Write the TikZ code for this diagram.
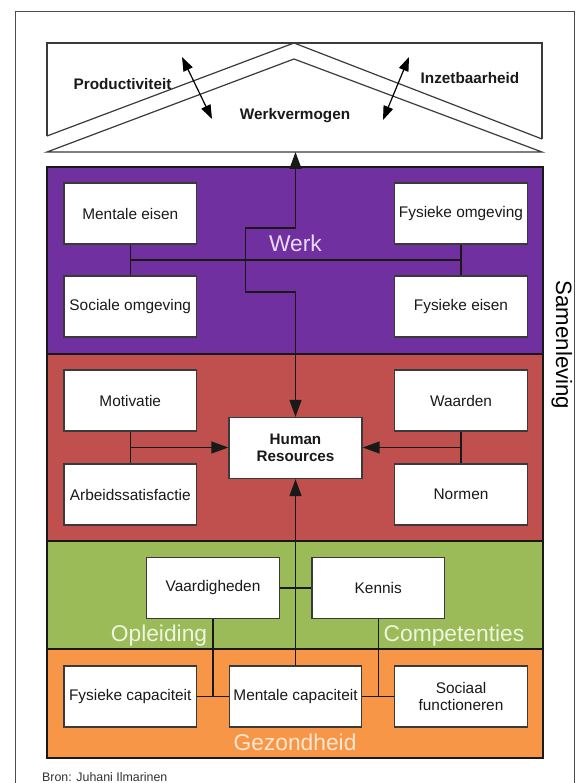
\documentclass[tikz,border=0pt]{standalone}
\usepackage{fontspec}
\setmainfont{Liberation Sans}
\usetikzlibrary{arrows.meta,calc}
\definecolor{werkpurple}{HTML}{7030A0}
\definecolor{hrred}{HTML}{C0504D}
\definecolor{compgreen}{HTML}{9BBB59}
\definecolor{healthorange}{HTML}{F79646}
\definecolor{lavtext}{HTML}{E8DAF4}
\definecolor{greentext}{HTML}{EEF5DF}
\definecolor{peachtext}{HTML}{FDE6D2}
\definecolor{linegray}{HTML}{3A3A3A}
\tikzset{
  band/.style={draw=black!90, line width=1.8pt},
  infobox/.style={draw=linegray, line width=1.3pt, fill=white, minimum width=132.5pt,
    minimum height=61pt, inner sep=0pt, align=center, text=black!90,
    font=\fontsize{15.4}{17.7}\selectfont},
  hrbox/.style={infobox, font=\bfseries\fontsize{15.2}{16.8}\selectfont},
  bandlabel/.style={anchor=base, inner sep=0pt, font=\fontsize{22.8}{26}\selectfont},
  rooflabel/.style={inner sep=0pt, font=\bfseries\fontsize{15.3}{18}\selectfont, text=black!90},
  roofline/.style={draw=linegray, line width=1.2pt},
  conn/.style={draw=black!90, line width=1.4pt},
  endarrow/.style={-{Triangle[length=17pt, width=12pt]}},
  botharrow/.style={{Triangle[length=17pt, width=12pt]}-{Triangle[length=17pt, width=12pt]}},
  roofarrow/.style={draw=black, line width=1.2pt, {Triangle[length=14pt,width=10pt]}-{Triangle[length=14pt,width=10pt]}}
}
\begin{document}
\begin{tikzpicture}[x=1pt,y=-1pt]
\useasboundingbox (0,0) rectangle (581,783);
\fill[white] (0,0) rectangle (581,783);
\clip (0,0) rectangle (581,783);
% outer frame
\draw[draw=black!70, line width=1pt] (15,790) -- (15,12) -- (574,12) -- (574,790);

% roof
\draw[roofline] (47,136) -- (47,43) -- (542,43) -- (542,139);
\draw[roofline] (47,136) -- (294,43) -- (542,139);
\draw[roofline] (47,152) -- (294,59) -- (542,152) -- cycle;
\coordinate (rb) at (295.5,152);
\coordinate (pa1) at (182,57);
\coordinate (pa2) at (212,119);
\coordinate (ia1) at (409,57);
\coordinate (ia2) at (383,120);
\draw[roofarrow] (pa1) -- (pa2);
\draw[roofarrow] (ia1) -- (ia2);
\node[rooflabel] (prod) at (122.5,84) {Productiviteit};
\node[rooflabel] (inzet) at (470,78) {Inzetbaarheid};
\node[rooflabel] (werkv) at (295,116) {Werkvermogen};

% bands
\draw[band, fill=werkpurple] (47,167) rectangle (543,354);
\draw[band, fill=hrred] (47,354) rectangle (543,541);
\draw[band, fill=compgreen] (47,541) rectangle (543,649);
\draw[band, fill=healthorange] (47,649) rectangle (543,758);

% band labels
\node[bandlabel, text=lavtext] (lwerk) at (295.5,252) {Werk};
\node[bandlabel, text=greentext] (lopl) at (159,641.7) {Opleiding};
\node[bandlabel, text=greentext] (lcomp) at (454,641.7) {Competenties};
\node[bandlabel, text=peachtext] (lgez) at (295,750) {Gezondheid};
\node[bandlabel, rotate=-90, text=black, font=\fontsize{22.2}{26}\selectfont] (lsam) at (556,345) {Samenleving};

% werk boxes
\node[infobox] (me) at (130.25,213.5) {Mentale eisen};
\node[infobox] (so) at (130.25,306.5) {Sociale omgeving};
\node[infobox] (fo) at (461,213.5) {Fysieke omgeving};
\node[infobox] (fe) at (461,306.5) {Fysieke eisen};
% human resources boxes
\node[infobox] (mo) at (130.25,400.5) {Motivatie};
\node[infobox] (ar) at (130.25,494.5) {Arbeidssatisfactie};
\node[infobox] (wa) at (461,400.5) {Waarden};
\node[infobox] (no) at (461,494.5) {Normen};
\node[hrbox, minimum width=133pt] (hr) at (295.5,448) {Human\\Resources};
% competenties
\node[infobox] (va) at (213,588) {Vaardigheden};
\node[infobox] (ke) at (378.25,588) {Kennis};
% gezondheid
\node[infobox] (fc) at (130.25,696.5) {Fysieke capaciteit};
\node[infobox] (mc) at (295.5,696.5) {Mentale capaciteit};
\node[infobox] (sf) at (461,696.5) {Sociaal\\functioneren};

% werk connectors
\coordinate (jl) at ($(me.south)!0.5!(so.north)$);
\coordinate (jr) at ($(fo.south)!0.5!(fe.north)$);
\draw[conn] (me.south) -- (so.north);
\draw[conn] (fo.south) -- (fe.north);
\draw[conn] (jl) -- (jr);
\coordinate (k1) at (295.5,228);
\coordinate (k2) at (245.5,228);
\coordinate (k3) at (245.5,292);
\coordinate (k4) at (295.5,292);
\draw[conn, botharrow] (rb) -- (k1) -- (k2) -- (k3) -- (k4) -- (hr.north);

% HR connectors
\coordinate (jl2) at ($(mo.south)!0.5!(ar.north)$);
\coordinate (jr2) at ($(wa.south)!0.5!(no.north)$);
\draw[conn] (mo.south) -- (ar.north);
\draw[conn] (wa.south) -- (no.north);
\draw[conn, endarrow] (jl2) -- (jl2 -| hr.west);
\draw[conn, endarrow] (jr2) -- (jr2 -| hr.east);
\draw[conn, endarrow] (mc.north) -- (hr.south);

% competenties / gezondheid connectors
\draw[conn] (va.east) -- (ke.west);
\draw[conn] (fc.east) -- (mc.west);
\draw[conn] (mc.east) -- (sf.west);
\coordinate (j3) at ($(fc.east)!0.5!(mc.west)$);
\coordinate (j4) at ($(mc.east)!0.5!(sf.west)$);
\draw[conn] (va.south) -- (va.south |- j3);
\draw[conn] (ke.south) -- (ke.south |- j4);

% source
\node[anchor=base west, inner sep=0pt, text=black!80, font=\fontsize{12.4}{14}\selectfont] (bron) at (42,781) {Bron: Juhani Ilmarinen};
\end{tikzpicture}
\end{document}
